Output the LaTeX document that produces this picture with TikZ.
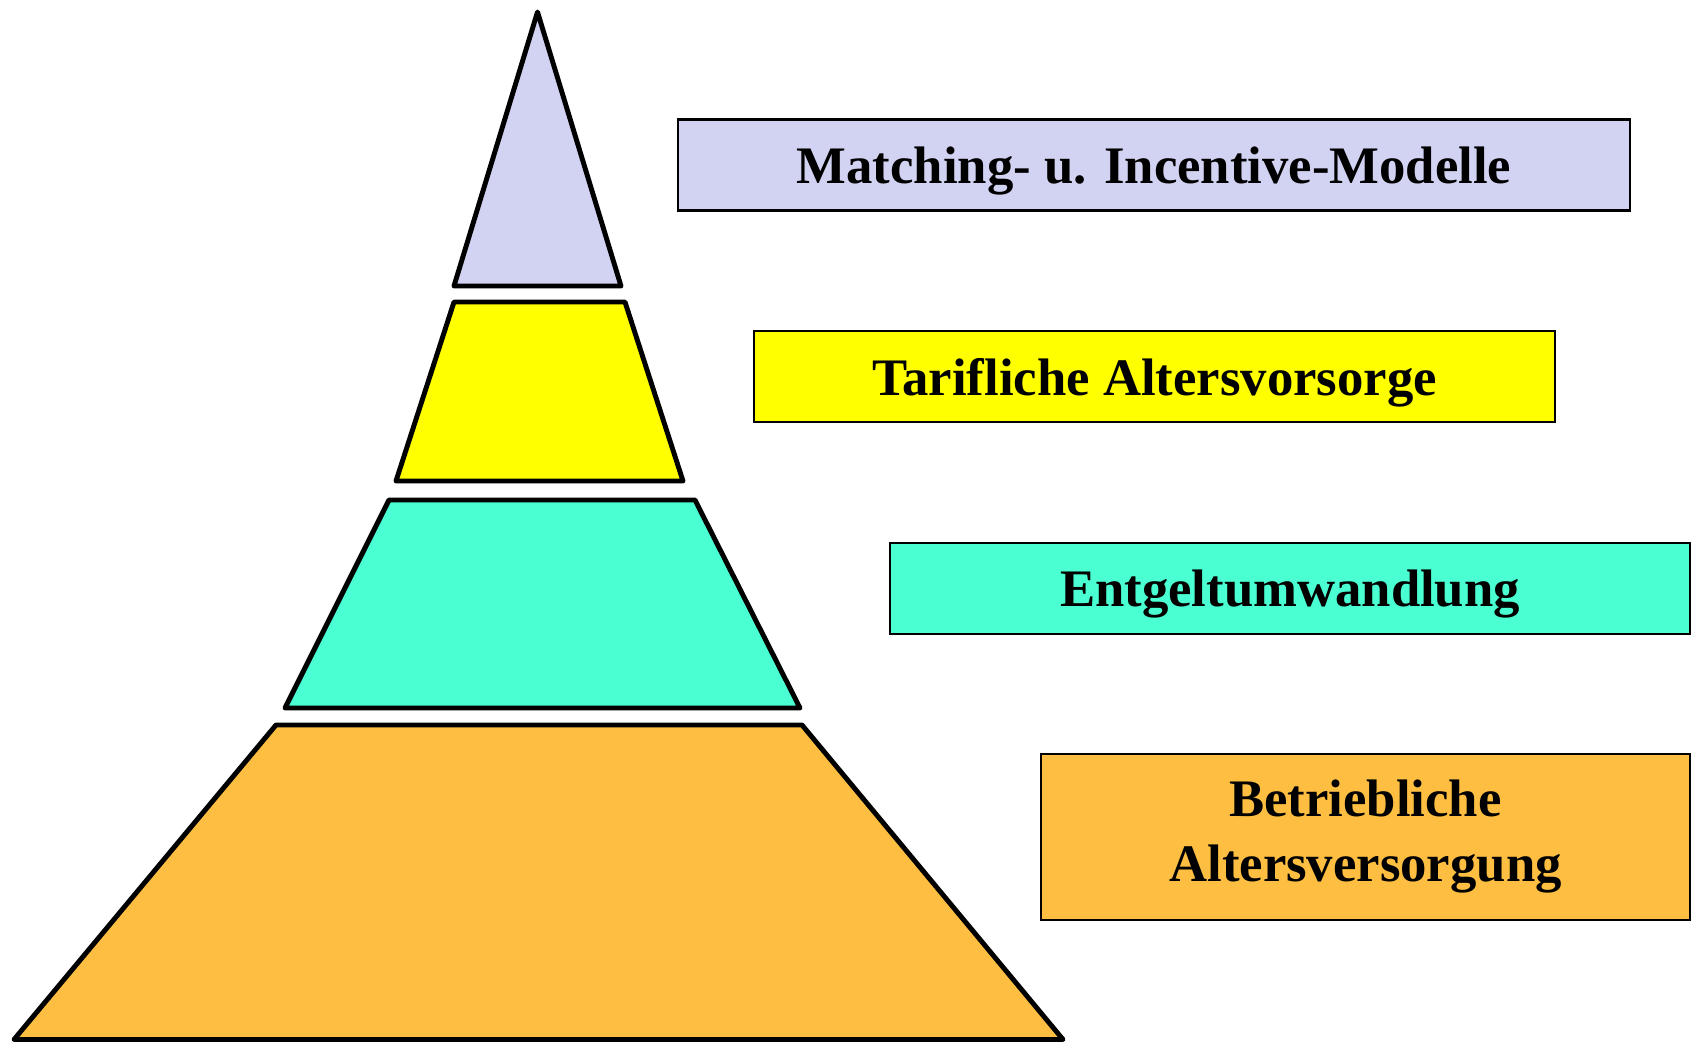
\documentclass[tikz,border=0pt]{standalone}
\usepackage{fontspec}
\setmainfont{Liberation Serif}
\usepackage{tikz}
\usetikzlibrary{positioning}

\definecolor{lavender}{RGB}{210,210,242}
\definecolor{brightyellow}{RGB}{255,255,0}
\definecolor{aquagreen}{RGB}{74,255,210}
\definecolor{goldorange}{RGB}{253,190,65}

\begin{document}
\begin{tikzpicture}[
  pyrlayer/.style={draw, line width=1.4pt, line join=round},
  tagbox/.style={draw, line width=0.6pt, minimum height=0.91cm, align=center, font=\fontsize{15}{18.5}\selectfont\bfseries},
  onebox/.style={tagbox, text depth=0pt}
]
  \useasboundingbox (0,0) rectangle (16.91,10.42);

  % Pyramid layers
  \draw[pyrlayer, fill=lavender] (5.375,10.30) -- (6.21,7.56) -- (4.54,7.56) -- cycle;
  \draw[pyrlayer, fill=brightyellow] (4.54,7.40) -- (6.25,7.40) -- (6.83,5.61) -- (3.96,5.61) -- cycle;
  \draw[pyrlayer, fill=aquagreen] (3.89,5.42) -- (6.95,5.42) -- (8.00,3.34) -- (2.85,3.34) -- cycle;
  \draw[pyrlayer, fill=goldorange] (2.76,3.17) -- (8.02,3.17) -- (10.63,0.025) -- (0.14,0.025) -- cycle;

  % Labels
  \node[onebox, fill=lavender, minimum width=9.52cm] (matching) at (11.54,8.77) {Matching- u. Incentive-Modelle};
  \node[onebox, fill=brightyellow, minimum width=8.01cm] (tarif) at (11.545,6.655) {Tarifliche Altersvorsorge};
  \node[onebox, fill=aquagreen, minimum width=8.00cm] (entgelt) at (12.90,4.535) {Entgeltumwandlung};
  \node[tagbox, fill=goldorange, minimum width=6.49cm, minimum height=1.66cm] (betrieb) at (13.655,2.05) {Betriebliche\\Altersversorgung};
\end{tikzpicture}
\end{document}
